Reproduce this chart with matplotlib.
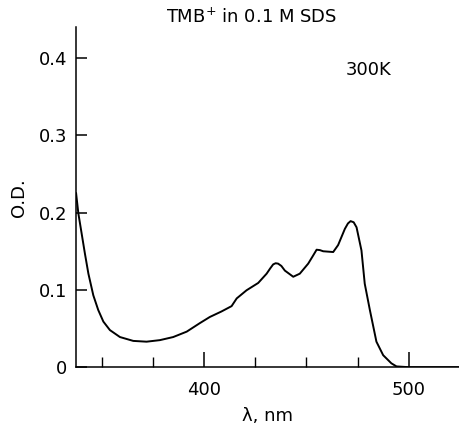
import matplotlib
matplotlib.use("Agg")
import matplotlib.pyplot as plt
from matplotlib.ticker import FixedLocator

# absorption spectrum
wavelength = [337.6, 338.7, 340.3, 341.9, 343.6, 346.0, 348.4, 350.9, 354.1, 359.0,
              365.5, 372.0, 378.5, 385.0, 391.6, 398.0, 402.9, 408.5, 413.5, 416.0,
              420.8, 426.5, 430.6, 432.4, 433.8, 435.0, 436.2, 437.8, 439.5, 443.6,
              446.8, 450.9, 453.2, 455.0, 456.6, 458.2, 463.1, 465.5, 468.8, 470.3,
              471.6, 473.1, 474.5, 476.9, 478.5, 481.0, 484.2, 487.5, 491.5, 494.0,
              500.0, 525.0]
od = [0.225, 0.199, 0.173, 0.147, 0.121, 0.093, 0.074, 0.059, 0.048, 0.039,
      0.034, 0.033, 0.035, 0.039, 0.046, 0.057, 0.065, 0.072, 0.079, 0.089,
      0.0995, 0.109, 0.121, 0.128, 0.133, 0.1345, 0.134, 0.131, 0.125, 0.117,
      0.121, 0.134, 0.144, 0.152, 0.1515, 0.150, 0.149, 0.158, 0.179, 0.186,
      0.189, 0.1875, 0.181, 0.151, 0.108, 0.074, 0.033, 0.0155, 0.005, 0.001,
      0.0, 0.0]

y_ticks = [0, 0.1, 0.2, 0.3, 0.4]
y_labels = ['0', '0.1', '0.2', '0.3', '0.4']
x_ticks = [400, 500]
x_minor = [350, 375, 425, 450, 475]

fig = plt.figure(figsize=(4.6, 4.24), dpi=100)
ax = fig.add_axes([0.165, 0.134, 0.835, 0.802])

ax.plot(wavelength, od, color='black', lw=1.4, solid_joinstyle='round')

ax.set_xlim(337.5, 525)
ax.set_ylim(0, 0.44)
ax.spines['top'].set_visible(False)
ax.spines['right'].set_visible(False)
ax.spines['left'].set_linewidth(1.1)
ax.spines['bottom'].set_linewidth(1.1)

ax.xaxis.set_major_locator(FixedLocator(x_ticks))
ax.xaxis.set_minor_locator(FixedLocator(x_minor))
ax.set_yticks(y_ticks)
ax.set_yticklabels(y_labels)
ax.tick_params(axis='both', which='major', direction='in', labelsize=13, width=1.1)
ax.tick_params(axis='x', which='major', length=11, pad=10)
ax.tick_params(axis='y', which='major', length=8, pad=6)
ax.tick_params(axis='x', which='minor', direction='in', length=7, width=1.0)

ax.set_ylabel('O.D.', fontsize=13, labelpad=8)
ax.set_xlabel('λ, nm', fontsize=13, labelpad=6)

fig.text(0.548, 0.96, 'TMB$^{+}$ in 0.1 M SDS', ha='center', va='center', fontsize=13)
ax.text(480.5, 0.384, '300K', ha='center', va='center', fontsize=13)

fig.savefig('out.png', dpi=100)
